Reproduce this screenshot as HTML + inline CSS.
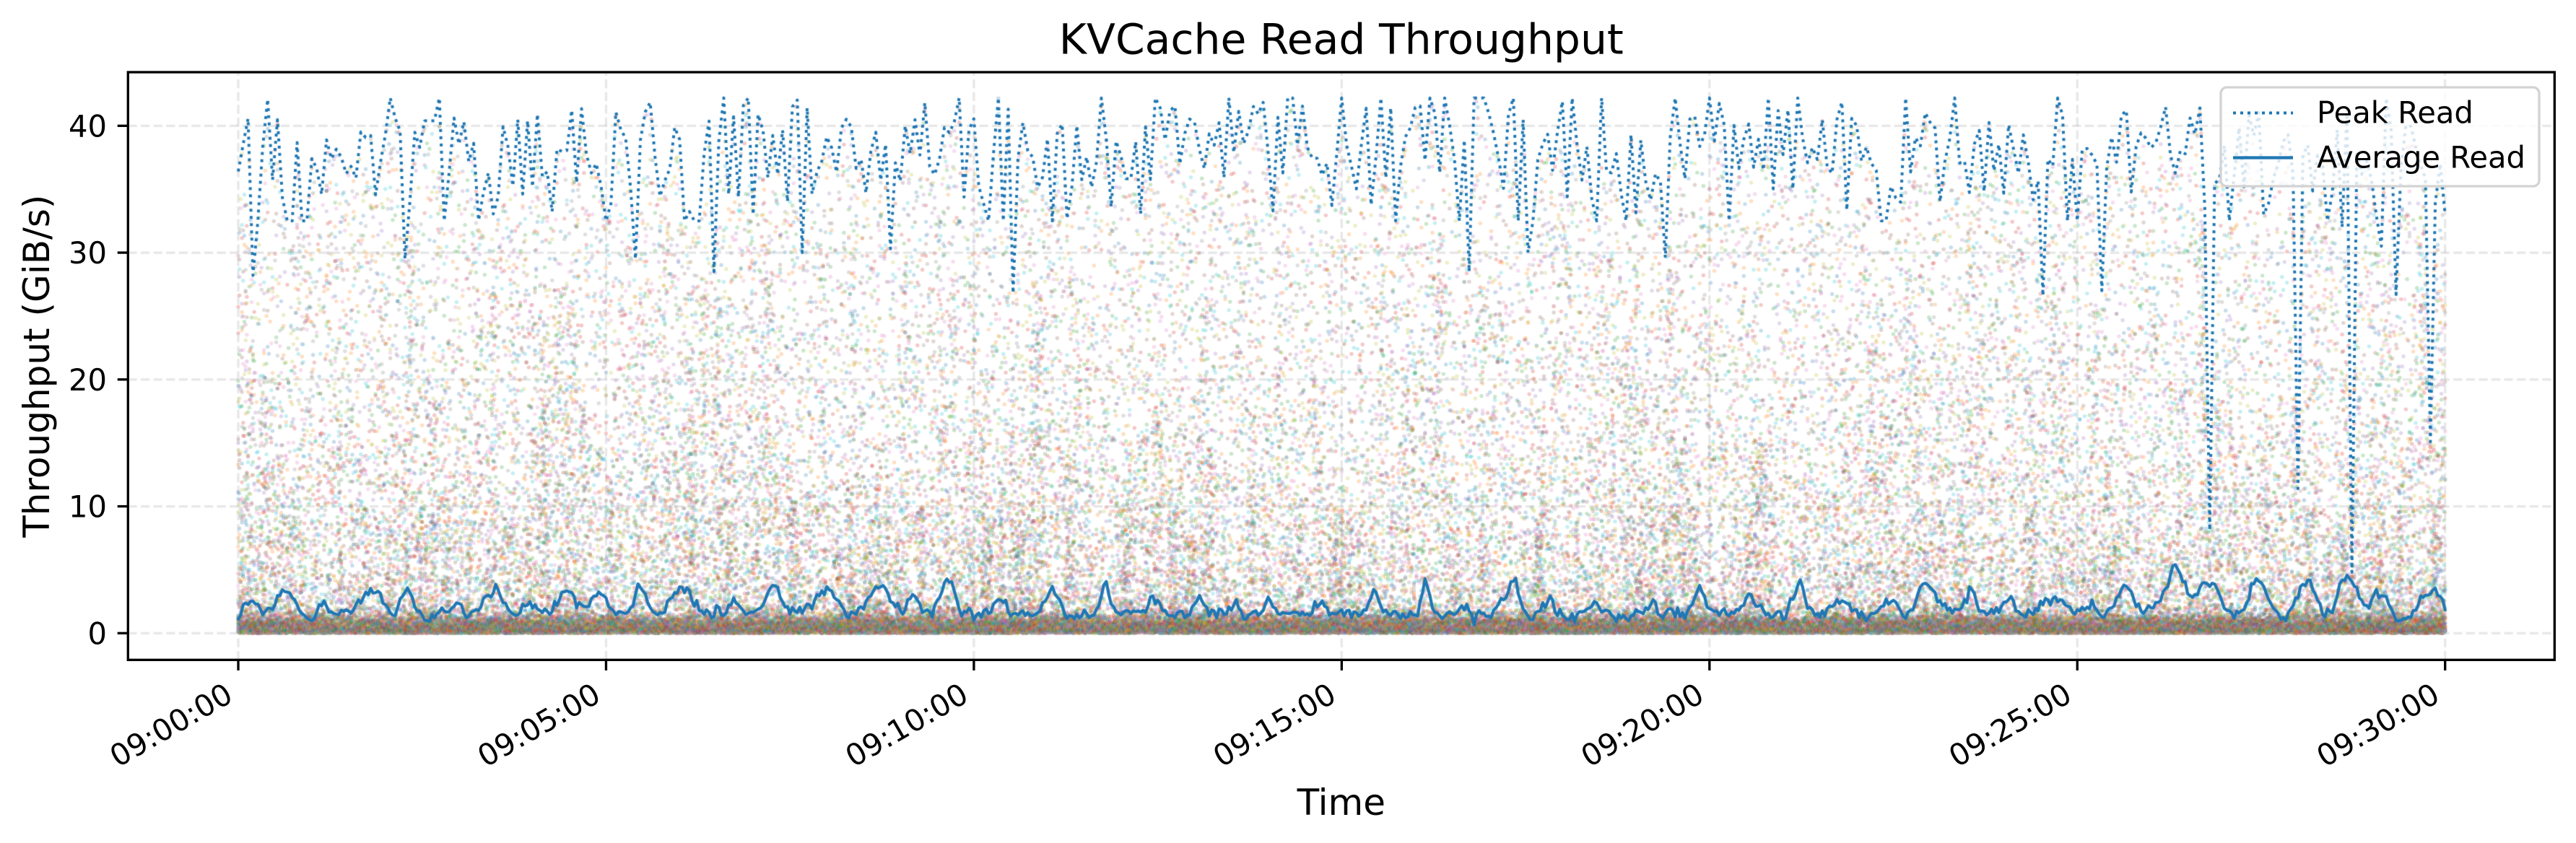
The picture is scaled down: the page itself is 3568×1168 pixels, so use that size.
<!DOCTYPE html>
<html><head><meta charset="utf-8">
<style>
html,body{margin:0;padding:0;background:#fff;}
#wrap{position:relative;width:3568px;height:1168px;overflow:hidden;background:#fff;}
canvas,svg{position:absolute;left:0;top:0;}
text{font-family:"DejaVu Sans","Liberation Sans",sans-serif;fill:#000;}
</style></head><body>
<div id="wrap">
<canvas id="c" width="3568" height="1168"></canvas>
<svg width="3568" height="1168" viewBox="0 0 3568 1168" xmlns="http://www.w3.org/2000/svg">
  <rect x="177.3" y="100" width="3361" height="814.3" fill="none" stroke="#000" stroke-width="3.33"/>
  <g stroke="#000" stroke-width="3.33">
    <line x1="162.7" y1="877.3" x2="177.3" y2="877.3"/>
    <line x1="162.7" y1="701.55" x2="177.3" y2="701.55"/>
    <line x1="162.7" y1="525.8" x2="177.3" y2="525.8"/>
    <line x1="162.7" y1="350.05" x2="177.3" y2="350.05"/>
    <line x1="162.7" y1="174.3" x2="177.3" y2="174.3"/>
    <line x1="330" y1="914.3" x2="330" y2="928.9"/>
    <line x1="839.45" y1="914.3" x2="839.45" y2="928.9"/>
    <line x1="1348.9" y1="914.3" x2="1348.9" y2="928.9"/>
    <line x1="1858.35" y1="914.3" x2="1858.35" y2="928.9"/>
    <line x1="2367.8" y1="914.3" x2="2367.8" y2="928.9"/>
    <line x1="2877.25" y1="914.3" x2="2877.25" y2="928.9"/>
    <line x1="3386.7" y1="914.3" x2="3386.7" y2="928.9"/>
  </g>
  <g font-size="41.67" text-anchor="end">
    <text x="148" y="892.3">0</text>
    <text x="148" y="716.5">10</text>
    <text x="148" y="540.8">20</text>
    <text x="148" y="365">30</text>
    <text x="148" y="189.3">40</text>
  </g>
  <g font-size="41.67" text-anchor="end">
    <text transform="translate(325.1,970.3) rotate(-30)">09:00:00</text>
    <text transform="translate(834.55,970.3) rotate(-30)">09:05:00</text>
    <text transform="translate(1344,970.3) rotate(-30)">09:10:00</text>
    <text transform="translate(1853.45,970.3) rotate(-30)">09:15:00</text>
    <text transform="translate(2362.9,970.3) rotate(-30)">09:20:00</text>
    <text transform="translate(2872.35,970.3) rotate(-30)">09:25:00</text>
    <text transform="translate(3381.8,970.3) rotate(-30)">09:30:00</text>
  </g>
  <text x="1857.8" y="74.5" font-size="58.33" text-anchor="middle">KVCache Read Throughput</text>
  <text x="1857.8" y="1129" font-size="50" text-anchor="middle">Time</text>
  <text transform="translate(68,507.2) rotate(-90)" font-size="50" text-anchor="middle">Throughput (GiB/s)</text>
  <rect x="3076" y="121" width="441" height="137" rx="8.3" ry="8.3" fill="#fff" fill-opacity="0.8" stroke="#d3d3d3" stroke-width="3.3"/>
  <line x1="3093" y1="156.5" x2="3176" y2="156.5" stroke="#1f77b4" stroke-width="4" stroke-dasharray="4 6"/>
  <line x1="3093" y1="218.5" x2="3176" y2="218.5" stroke="#1f77b4" stroke-width="4.2"/>
  <text x="3209" y="170.5" font-size="41.67">Peak Read</text>
  <text x="3209" y="232.5" font-size="41.67">Average Read</text>
</svg>
</div>
<script>
(function(){
function mulberry32(a){return function(){a|=0;a=a+0x6D2B79F5|0;var t=Math.imul(a^a>>>15,1|a);t=t+Math.imul(t^t>>>7,61|t)^t;return((t^t>>>14)>>>0)/4294967296;};}
var rnd=mulberry32(20240611);
function gauss(){var u=0;while(u===0)u=rnd();var v=rnd();return Math.sqrt(-2*Math.log(u))*Math.cos(2*Math.PI*v);}
var X0=330,XS=3056.7/1800,Y0=877.3,YS=17.575;
function X(t){return X0+t*XS;}
function Y(v){return Y0-v*YS;}
var cv=document.getElementById('c');var ctx=cv.getContext('2d');
ctx.fillStyle='#fff';ctx.fillRect(0,0,3568,1168);
ctx.save();ctx.beginPath();ctx.rect(177.3,100,3361,814.3);ctx.clip();

/* peak series first (4 s spacing) */
var DT=4,NP=450;
var peak=[],drift=[];for(var i=0;i<45;i++)drift.push(gauss());
for(var i=0;i<=NP;i++){
  var tt=i*DT,f=tt/50,j=Math.floor(f),w=f-j;
  var d=drift[j]*(1-w)+drift[j+1]*w;
  var v=37.8+0.7*d+2.8*gauss();
  if(rnd()<0.02)v=29+3*rnd();
  v=Math.max(32.5,Math.min(42.2,v));
  peak.push(v);
}
var ov=[[0,36.4],[12,28.2],[24,42.1],[136,29.5],[324,29.5],[388,28.5],[460,30],[532,30.3],[632,26.8],[1004,28.5],[1052,30],[1164,29.6],[1472,26.6],[1520,27],[1608,8.1],[1652,33],[1680,11.4],[1716,32],[1724,4.8],[1748,30.5],[1760,26.7],[1788,15.1],[1800,33]];
for(var i=0;i<ov.length;i++){peak[Math.round(ov[i][0]/DT)]=ov[i][1];}
function P(t){var f=t/DT,j=Math.floor(f),w=f-j;if(j>=NP)return peak[NP];return peak[j]*(1-w)+peak[j+1]*w;}

var cols=['#1f77b4','#ff7f0e','#2ca02c','#d62728','#9467bd','#8c564b','#e377c2','#7f7f7f','#bcbd22','#17becf'];
ctx.globalAlpha=0.25;
var R=2.7,ci=0;
function dot(x,v){ctx.fillStyle=cols[ci%10];ci++;ctx.beginPath();ctx.arc(x,Y(v),R,0,6.2832);ctx.fill();}

/* near-zero band + broad background */
for(var t=0;t<=1800;t++){
  var x=X(t),pt=P(t);
  for(var s=0;s<16;s++){
    var v;
    if(s%10===1)v=0.9+0.3*gauss();
    else v=Math.abs(gauss())*0.7;
    if(v>2.2)v=2.2*rnd();
    if(v<0)v=0.05;
    dot(x,v);
  }
  for(var s=0;s<20;s++){dot(x,pt*Math.pow(rnd(),2.3));}
}
/* narrow vertical streaks */
var cc=rnd()*4;
while(cc<1805){
  var a=0.3+0.7*rnd(),sg=0.7+2.2*rnd(),vmax=8+28*Math.pow(rnd(),1.3);
  var lo=Math.max(0,Math.floor(cc-3*sg)),hi=Math.min(1800,Math.ceil(cc+3*sg));
  for(var t=lo;t<=hi;t++){
    var d=(t-cc)/sg,wgt=a*Math.exp(-0.5*d*d);
    var n=Math.floor(20*wgt+rnd());
    var vm=Math.min(vmax,P(t));
    for(var k=0;k<n;k++)dot(X(t),vm*Math.pow(rnd(),1.3));
  }
  cc+=3+9*rnd();
}
ctx.globalAlpha=1;

/* grid */
ctx.strokeStyle='rgba(176,176,176,0.3)';ctx.lineWidth=3.2;ctx.setLineDash([12.3,5.3]);
for(var k=0;k<=40;k+=10){ctx.beginPath();ctx.moveTo(177.3,Y(k));ctx.lineTo(3538.3,Y(k));ctx.stroke();}
for(var k=0;k<=6;k++){ctx.beginPath();ctx.moveTo(X(k*300),914.3);ctx.lineTo(X(k*300),100);ctx.stroke();}

/* peak line */
ctx.strokeStyle='#1f77b4';ctx.lineWidth=4.0;ctx.setLineDash([4,6]);ctx.lineCap='butt';ctx.lineJoin='round';
ctx.beginPath();
for(var i=0;i<peak.length;i++){var px=X(i*DT),py=Y(peak[i]);if(i===0)ctx.moveTo(px,py);else ctx.lineTo(px,py);}
ctx.stroke();

/* average line */
var bumps=[],c=4+10*rnd();
while(c<1830){var late=c>1575;bumps.push([c,late?2.8+1.5*rnd():0.6+2.0*rnd(),late?7+4*rnd():3+5*rnd()]);c+=24+20*rnd();}
var avg=[],nz=0;
for(var i=0;i<=900;i++){
  var tt=i*2;
  var base=1.5-1.1/(1+Math.exp(-(tt-1585)/8));
  var v=base;
  for(var q=0;q<bumps.length;q++){var dd=(tt-bumps[q][0])/bumps[q][2];if(Math.abs(dd)<4)v+=bumps[q][1]*Math.exp(-0.5*dd*dd);}
  nz=0.35*nz+0.65*gauss()*0.38;v+=nz;
  v=Math.max(0.05,v);avg.push(v);
}
avg[0]=1.1;
ctx.setLineDash([]);ctx.lineWidth=4.2;ctx.lineCap='round';
ctx.beginPath();
for(var i=0;i<avg.length;i++){var px=X(i*2),py=Y(avg[i]);if(i===0)ctx.moveTo(px,py);else ctx.lineTo(px,py);}
ctx.stroke();
ctx.restore();
})();
</script>
</body></html>
